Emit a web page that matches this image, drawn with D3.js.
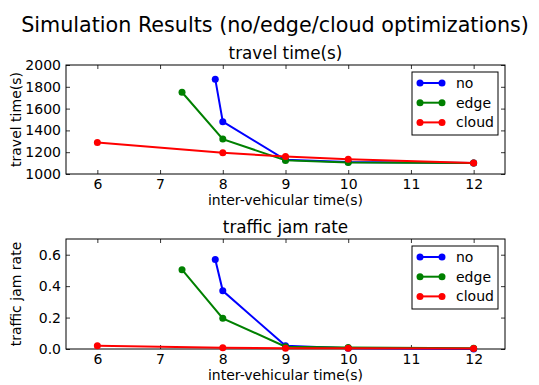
<!DOCTYPE html>
<html>
<head>
<meta charset="utf-8">
<script src="https://cdn.jsdelivr.net/npm/d3@7"></script>
<style>
  body { margin: 0; background: #fff; }
  svg text { font-family: "DejaVu Sans", sans-serif; fill: #000; }
</style>
</head>
<body>
<svg id="chart" width="539" height="385"></svg>
<script>
// data
const seriesNames = ["no", "edge", "cloud"];
const seriesColors = ["#0000ff", "#008000", "#ff0000"];

const noX = [7.88, 8, 9, 10, 12];
const edgeX = [7.35, 8, 9, 10, 12];
const cloudX = [6, 8, 9, 10, 12];

const travelNo = [1870, 1480, 1130, 1110, 1100];
const travelEdge = [1750, 1320, 1125, 1105, 1100];
const travelCloud = [1290, 1195, 1160, 1135, 1100];

const jamNo = [0.57, 0.37, 0.02, 0.005, 0.0];
const jamEdge = [0.505, 0.195, 0.015, 0.01, 0.005];
const jamCloud = [0.02, 0.008, 0.005, 0.005, 0.003];

const xTicks = [6, 7, 8, 9, 10, 11, 12];
const travelTicks = [1000, 1200, 1400, 1600, 1800, 2000];
const jamTicks = [0.0, 0.2, 0.4, 0.6];

const svg = d3.select("#chart");

svg.append("text")
  .attr("x", 275).attr("y", 32)
  .attr("text-anchor", "middle")
  .style("font-size", "20.7px")
  .text("Simulation Results (no/edge/cloud optimizations)");

function panel(top, bottom, yDomain, yTicks, yFmt, title, yLabel, ys) {
  const left = 66, right = 505;
  const x = d3.scaleLinear().domain([5.5, 12.5]).range([left, right]);
  const y = d3.scaleLinear().domain(yDomain).range([bottom, top]);
  const g = svg.append("g");

  // ticks, pointing in, on all four sides
  const tl = 4;
  g.append("g").attr("transform", `translate(0,${bottom})`)
    .call(d3.axisBottom(x).tickValues(xTicks).tickSize(-tl).tickPadding(5).tickFormat(d3.format("d")));
  g.append("g").attr("transform", `translate(0,${top})`)
    .call(d3.axisTop(x).tickValues(xTicks).tickSize(-tl).tickFormat(""));
  g.append("g").attr("transform", `translate(${left},0)`)
    .call(d3.axisLeft(y).tickValues(yTicks).tickSize(-tl).tickPadding(5).tickFormat(yFmt));
  g.append("g").attr("transform", `translate(${right},0)`)
    .call(d3.axisRight(y).tickValues(yTicks).tickSize(-tl).tickFormat(""));
  g.selectAll(".domain").remove();
  g.selectAll(".tick line").attr("stroke", "#000").attr("stroke-width", 0.8);
  g.selectAll(".tick text").style("font-size", "14px").attr("fill", "#000");

  g.append("rect")
    .attr("x", left).attr("y", top)
    .attr("width", right - left).attr("height", bottom - top)
    .attr("fill", "none").attr("stroke", "#000").attr("stroke-width", 1);

  const xs = [noX, edgeX, cloudX];
  const line = d3.line().x(d => x(d[0])).y(d => y(d[1]));
  ys.forEach((vals, i) => {
    const pts = vals.map((v, j) => [xs[i][j], v]);
    g.append("path").datum(pts)
      .attr("d", line)
      .attr("fill", "none")
      .attr("stroke", seriesColors[i])
      .attr("stroke-width", 2);
    g.selectAll(null).data(pts).join("circle")
      .attr("cx", d => x(d[0])).attr("cy", d => y(d[1]))
      .attr("r", 3.5)
      .attr("fill", seriesColors[i]);
  });

  g.append("text")
    .attr("x", (left + right) / 2).attr("y", top - 6.5)
    .attr("text-anchor", "middle")
    .style("font-size", "16.8px")
    .text(title);

  g.append("text")
    .attr("x", (left + right) / 2).attr("y", bottom + 31)
    .attr("text-anchor", "middle")
    .style("font-size", "14px")
    .text("inter-vehicular time(s)");

  g.append("text")
    .attr("transform", `translate(21,${(top + bottom) / 2}) rotate(-90)`)
    .attr("text-anchor", "middle")
    .style("font-size", "14px")
    .text(yLabel);

  // legend
  const lx = 412, ly = top + 7;
  const leg = g.append("g");
  leg.append("rect")
    .attr("x", lx).attr("y", ly)
    .attr("width", 86).attr("height", 63)
    .attr("fill", "#fff").attr("stroke", "#000").attr("stroke-width", 1);
  seriesNames.forEach((name, i) => {
    const ry = ly + 11 + i * 19.7;
    leg.append("line")
      .attr("x1", lx + 8).attr("x2", lx + 30)
      .attr("y1", ry).attr("y2", ry)
      .attr("stroke", seriesColors[i]).attr("stroke-width", 2);
    [lx + 8, lx + 30].forEach(cx => {
      leg.append("circle").attr("cx", cx).attr("cy", ry).attr("r", 3.5).attr("fill", seriesColors[i]);
    });
    leg.append("text")
      .attr("x", lx + 44).attr("y", ry + 5)
      .style("font-size", "14px")
      .text(name);
  });
}

panel(65, 174, [1000, 2000], travelTicks, d3.format("d"), "travel time(s)", "travel time(s)",
  [travelNo, travelEdge, travelCloud]);
panel(239, 349, [0, 0.7], jamTicks, d3.format(".1f"), "traffic jam rate", "traffic jam rate",
  [jamNo, jamEdge, jamCloud]);
</script>
</body>
</html>
